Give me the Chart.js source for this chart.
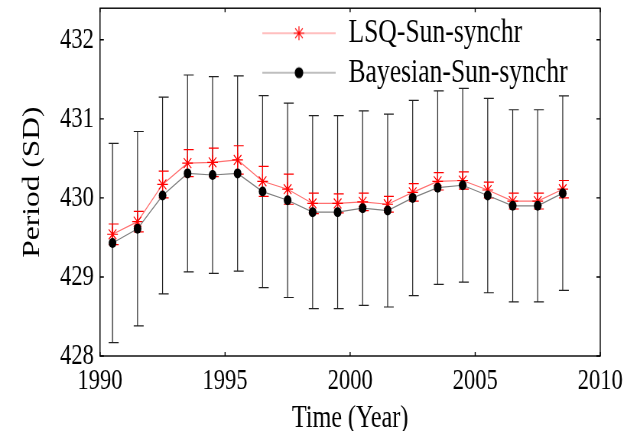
<!DOCTYPE html>
<html>
<head>
<meta charset="utf-8">
<script src="https://cdn.jsdelivr.net/npm/chart.js@4/dist/chart.umd.min.js"></script>
<style>
  body { margin: 0; background: #fff; }
</style>
</head>
<body>
<!-- the original figure is squeezed horizontally, so draw wide and show narrow -->
<canvas id="chart" width="820" height="431" style="width:627px;height:431px"></canvas>
<script>
// data
const years = [1990.5, 1991.5, 1992.5, 1993.5, 1994.5, 1995.5, 1996.5, 1997.5, 1998.5, 1999.5,
  2000.5, 2001.5, 2002.5, 2003.5, 2004.5, 2005.5, 2006.5, 2007.5, 2008.5];

const lsqPeriod = [429.54, 429.70, 430.17, 430.44, 430.45, 430.48, 430.21, 430.11, 429.93, 429.93,
  429.95, 429.92, 430.07, 430.21, 430.22, 430.10, 429.96, 429.96, 430.11];
const lsqErr = [0.13, 0.13, 0.17, 0.17, 0.18, 0.18, 0.19, 0.19, 0.13, 0.12,
  0.11, 0.10, 0.11, 0.11, 0.11, 0.10, 0.10, 0.10, 0.11];

const bayesPeriod = [429.43, 429.61, 430.03, 430.31, 430.29, 430.31, 430.08, 429.97, 429.82, 429.82,
  429.87, 429.84, 430.00, 430.13, 430.16, 430.03, 429.90, 429.90, 430.06];
const bayesErr = [1.26, 1.23, 1.245, 1.245, 1.245, 1.235, 1.215, 1.23, 1.22, 1.22,
  1.23, 1.22, 1.235, 1.225, 1.225, 1.23, 1.215, 1.215, 1.23];

const xTicks = [1990, 1995, 2000, 2005, 2010];
const yTicks = [428, 429, 430, 431, 432];

const serif = 'Liberation Serif, Times New Roman, serif';

function swatch(color, lineColor, style) {
  const c = document.createElement('canvas');
  c.width = 96; c.height = 20;
  const g = c.getContext('2d');
  g.strokeStyle = lineColor;
  g.lineWidth = 1.2;
  g.beginPath(); g.moveTo(0, 10); g.lineTo(96, 10); g.stroke();
  g.strokeStyle = color; g.fillStyle = color; g.lineWidth = 1.2;
  Chart.helpers.drawPoint(g, {pointStyle: style, radius: style === 'star' ? 7 : 5, rotation: 0, borderWidth: 1.2}, 48, 10);
  return c;
}

const errorBars = {
  id: 'errorBars',
  beforeDatasetsDraw(chart) {
    const {ctx, scales: {x, y}} = chart;
    const sets = [[bayesPeriod, bayesErr, '#222'], [lsqPeriod, lsqErr, '#ff0000']];
    ctx.save();
    sets.forEach(([vals, errs, col]) => {
      ctx.strokeStyle = col;
      ctx.lineWidth = 1.2;
      vals.forEach((v, i) => {
        const px = x.getPixelForValue(years[i]);
        const top = y.getPixelForValue(v + errs[i]);
        const bot = y.getPixelForValue(v - errs[i]);
        ctx.beginPath();
        ctx.moveTo(px, top); ctx.lineTo(px, bot);
        ctx.moveTo(px - 5, top); ctx.lineTo(px + 8, top);
        ctx.moveTo(px - 5, bot); ctx.lineTo(px + 8, bot);
        ctx.stroke();
      });
    });
    ctx.restore();
  }
};

const axisBox = {
  id: 'axisBox',
  afterLayout(chart) {
    // put the legend inside the plot, upper middle
    chart.legend.left = 337;
    chart.legend.top = 10.5;
  },
  afterDraw(chart) {
    const {ctx, chartArea: a, scales: {x, y}} = chart;
    ctx.save();
    ctx.strokeStyle = '#000';
    ctx.lineWidth = 1.4;
    ctx.strokeRect(a.left, a.top, a.right - a.left, a.bottom - a.top);
    ctx.beginPath();
    xTicks.forEach(t => {
      const px = x.getPixelForValue(t);
      ctx.moveTo(px, a.bottom); ctx.lineTo(px, a.bottom - 4);
      ctx.moveTo(px, a.top); ctx.lineTo(px, a.top + 4);
    });
    yTicks.forEach(t => {
      const py = y.getPixelForValue(t);
      ctx.moveTo(a.left, py); ctx.lineTo(a.left + 5, py);
      ctx.moveTo(a.right, py); ctx.lineTo(a.right - 5, py);
    });
    ctx.stroke();
    ctx.restore();
  }
};

const ctx = document.getElementById('chart').getContext('2d');
const chart = new Chart(ctx, {
  type: 'line',
  data: {
    datasets: [
      {
        label: 'Bayesian-Sun-synchr',
        data: years.map((yr, i) => ({x: yr, y: bayesPeriod[i]})),
        borderColor: '#808080',
        borderWidth: 1.2,
        pointStyle: 'circle',
        pointRadius: 5,
        pointBackgroundColor: '#000',
        pointBorderColor: '#000',
        pointBorderWidth: 0,
        tension: 0
      },
      {
        label: 'LSQ-Sun-synchr',
        data: years.map((yr, i) => ({x: yr, y: lsqPeriod[i]})),
        borderColor: '#ff7070',
        borderWidth: 1.2,
        pointStyle: 'star',
        pointRadius: 7,
        pointBorderColor: '#ff0000',
        pointBackgroundColor: '#ff0000',
        pointBorderWidth: 1.2,
        tension: 0
      }
    ]
  },
  options: {
    responsive: false,
    devicePixelRatio: 1,
    animation: false,
    events: [],
    layout: {padding: {top: 8, right: 35, left: 0, bottom: 0}},
    scales: {
      x: {
        type: 'linear',
        min: 1990,
        max: 2010,
        afterBuildTicks: s => { s.ticks = xTicks.map(v => ({value: v})); },
        afterFit: s => { s.height = 75; s.paddingLeft = 0; s.paddingRight = 0; },
        grid: {display: false, drawTicks: false},
        border: {display: false},
        ticks: {
          color: '#000',
          padding: 8,
          maxRotation: 0,
          font: {family: serif, size: 29.5},
          callback: v => String(v)
        },
        title: {
          display: true,
          text: 'Time (Year)',
          color: '#000',
          font: {family: serif, size: 31.5, lineHeight: 1},
          padding: {top: 0, bottom: -3}
        }
      },
      y: {
        min: 428,
        max: 432.4,
        afterBuildTicks: s => { s.ticks = yTicks.map(v => ({value: v})); },
        afterFit: s => { s.width = 130.8; s.paddingTop = 0; s.paddingBottom = 0; },
        grid: {display: false, drawTicks: false},
        border: {display: false},
        ticks: {
          color: '#000',
          padding: 8,
          font: {family: serif, size: 29.5},
          callback: v => String(v)
        },
        title: {
          display: true,
          text: 'Period (SD)',
          color: '#000',
          font: {family: serif, size: 31.5, lineHeight: 1},
          padding: {top: 27, bottom: 0}
        }
      }
    },
    plugins: {
      tooltip: {enabled: false},
      legend: {
        position: 'chartArea',
        align: 'start',
        labels: {
          color: '#000',
          font: {family: serif, size: 33.5},
          usePointStyle: true,
          pointStyleWidth: 96,
          padding: 6,
          generateLabels: () => [
            {text: 'LSQ-Sun-synchr', pointStyle: swatch('#ff0000', '#ff8080', 'star'), lineWidth: 0, hidden: false, datasetIndex: 1},
            {text: 'Bayesian-Sun-synchr', pointStyle: swatch('#000', '#808080', 'circle'), lineWidth: 0, hidden: false, datasetIndex: 0}
          ]
        }
      }
    }
  },
  plugins: [errorBars, axisBox]
});
</script>
</body>
</html>
